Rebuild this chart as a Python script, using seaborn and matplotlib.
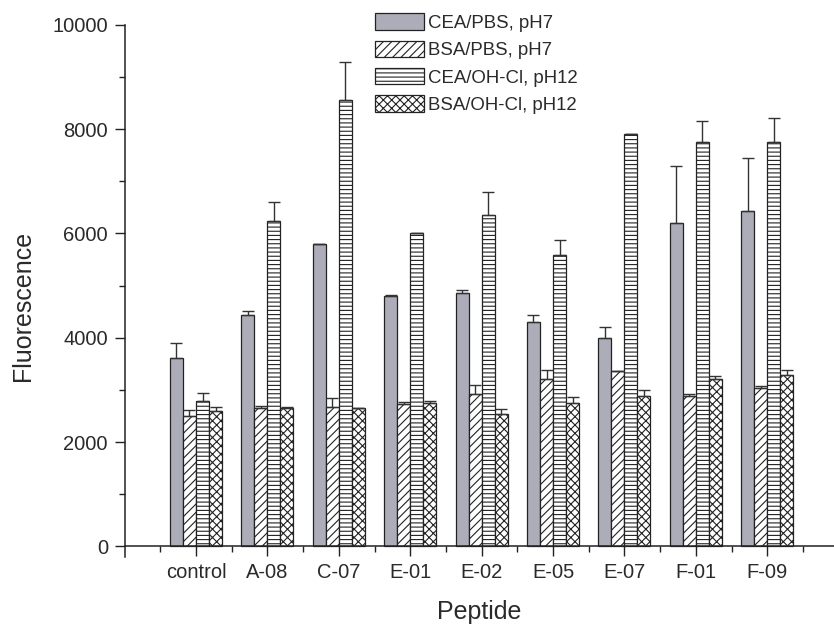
import numpy as np
import pandas as pd
import matplotlib
matplotlib.use("Agg")
import matplotlib.pyplot as plt
from matplotlib.ticker import MultipleLocator, FixedLocator
import seaborn as sns

# values
peptides = ["control", "A-08", "C-07", "E-01", "E-02", "E-05", "E-07", "F-01", "F-09"]
conditions = ["CEA/PBS, pH7", "BSA/PBS, pH7", "CEA/OH-Cl, pH12", "BSA/OH-Cl, pH12"]

cea_pbs = [3620, 4430, 5800, 4790, 4860, 4300, 4000, 6200, 6420]
bsa_pbs = [2500, 2650, 2680, 2720, 2930, 3200, 3360, 2880, 3040]
cea_ohcl = [2790, 6240, 8560, 6000, 6360, 5580, 7900, 7760, 7750]
bsa_ohcl = [2590, 2650, 2650, 2740, 2530, 2750, 2880, 3200, 3290]

cea_pbs_err = [270, 90, 0, 30, 60, 130, 210, 1100, 1030]
bsa_pbs_err = [120, 40, 160, 40, 160, 190, 0, 50, 30]
cea_ohcl_err = [150, 360, 720, 0, 430, 290, 0, 400, 460]
bsa_ohcl_err = [80, 20, 0, 40, 100, 120, 110, 60, 100]

series = [cea_pbs, bsa_pbs, cea_ohcl, bsa_ohcl]
errors = [cea_pbs_err, bsa_pbs_err, cea_ohcl_err, bsa_ohcl_err]

df = pd.DataFrame({
    "Peptide": np.tile(peptides, len(conditions)),
    "Condition": np.repeat(conditions, len(peptides)),
    "Fluorescence": np.concatenate(series),
})

sns.set_style("ticks")
plt.rcParams["font.family"] = ["Liberation Sans", "DejaVu Sans"]
plt.rcParams["hatch.linewidth"] = 0.8
plt.rcParams["hatch.color"] = "#222222"
text_col = "#2a2a2a"

fig = plt.figure(figsize=(8.34, 6.31), dpi=100)
ax = fig.add_axes([0.1494, 0.1176, 0.8506, 0.8433])

palette = ["#adadb9", "white", "white", "white"]
sns.barplot(data=df, x="Peptide", y="Fluorescence", hue="Condition",
            order=peptides, hue_order=conditions, palette=palette,
            width=0.73, gap=0, errorbar=None, edgecolor="#222222",
            linewidth=0.9, saturation=1, legend=False, ax=ax)

# hatch each series, then draw the upper error bars on the bar tops
hatches = [None, "////", "----", "xxxx"]
for cont, h, err in zip(ax.containers, hatches, errors):
    xs, tops = [], []
    for bar in cont.patches:
        if h:
            bar.set_hatch(h)
        xs.append(bar.get_x() + bar.get_width() / 2)
        tops.append(bar.get_height())
    ax.errorbar(xs, tops, yerr=[np.zeros(len(err)), err], fmt="none",
                ecolor="#333333", elinewidth=1.0, capsize=4.3, capthick=1.0,
                zorder=1)

ax.set_xlim(-1, 8.935)
ax.set_ylim(-200, 10000)
ax.spines["top"].set_visible(False)
ax.spines["right"].set_visible(False)
ax.spines["bottom"].set_position(("data", 0))
for s in ["left", "bottom"]:
    ax.spines[s].set_color("#222222")
    ax.spines[s].set_linewidth(1.1)

ax.set_yticks([0, 2000, 4000, 6000, 8000, 10000])
ax.yaxis.set_minor_locator(MultipleLocator(1000))
ax.xaxis.set_minor_locator(FixedLocator(np.arange(-0.5, 9.0, 1.0)))
ax.tick_params(axis="both", which="major", direction="out", length=7.5,
               width=1.0, labelsize=14.5, pad=4.5, colors="#222222",
               labelcolor=text_col)
ax.tick_params(axis="both", which="minor", direction="out", length=4.5,
               width=1.0, colors="#222222")

ax.set_xlabel("Peptide", fontsize=18, color=text_col, labelpad=13)
ax.set_ylabel("Fluorescence", fontsize=18, color=text_col)
ax.yaxis.set_label_coords(-0.126, 0.471)

ax.legend(ax.containers, conditions, loc="upper left",
          bbox_to_anchor=(0.353, 1.021), frameon=False, fontsize=13.4,
          borderpad=0, borderaxespad=0, handlelength=2.63, handleheight=0.97,
          handletextpad=0.2, labelspacing=0.47, labelcolor=text_col)

fig.savefig("out.png", dpi=100)
